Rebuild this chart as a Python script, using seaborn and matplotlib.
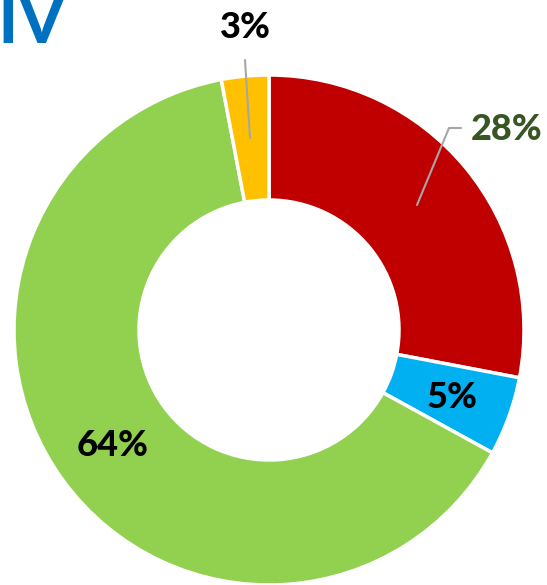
import matplotlib
matplotlib.use("Agg")
import matplotlib.pyplot as plt
import seaborn as sns

categories = ["A", "B", "C", "D"]
values = [28, 5, 64, 3]
labels = ["28%", "5%", "64%", "3%"]
colors = ["#C00000", "#00B0F0", "#92D050", "#FFC000"]
title = "IV"

sns.set_theme(style="white")
plt.rcParams["font.family"] = ["Lato", "DejaVu Sans"]

W, H = 547, 585
fig = plt.figure(figsize=(W / 100, H / 100), dpi=100)
ax = fig.add_axes([0, 0, 1, 1])

cx, cy, R = 269, H - 330, 255
ax.pie(values, colors=colors, startangle=90, counterclock=False,
       center=(cx, cy), radius=R, frame=True,
       wedgeprops=dict(width=125, edgecolor="white", linewidth=2.5))
ax.set_xlim(0, W)
ax.set_ylim(0, H)
ax.set_aspect("equal")
ax.axis("off")

def Y(y):
    return H - y

lc = "#A6A6A6"
# leader lines
ax.plot([245, 250], [Y(60), Y(138)], color=lc, lw=1.5, zorder=5)
ax.plot([417, 449, 461], [Y(205), Y(128), Y(128)], color=lc, lw=1.5, zorder=5)

fs = 26
kw = dict(ha="center", va="center", fontsize=fs, fontweight="black")
ax.text(245, Y(28), labels[3], color="black", **kw)
ax.text(507, Y(129), labels[0], color="#375623", **kw)
ax.text(452, Y(397), labels[1], color="black", **kw)
ax.text(113, Y(446), labels[2], color="black", **kw)

ax.text(-3, Y(43), title, ha="left", va="baseline", fontsize=50,
        fontweight="bold", color="#0070C0")

fig.savefig("out.png", dpi=100)
